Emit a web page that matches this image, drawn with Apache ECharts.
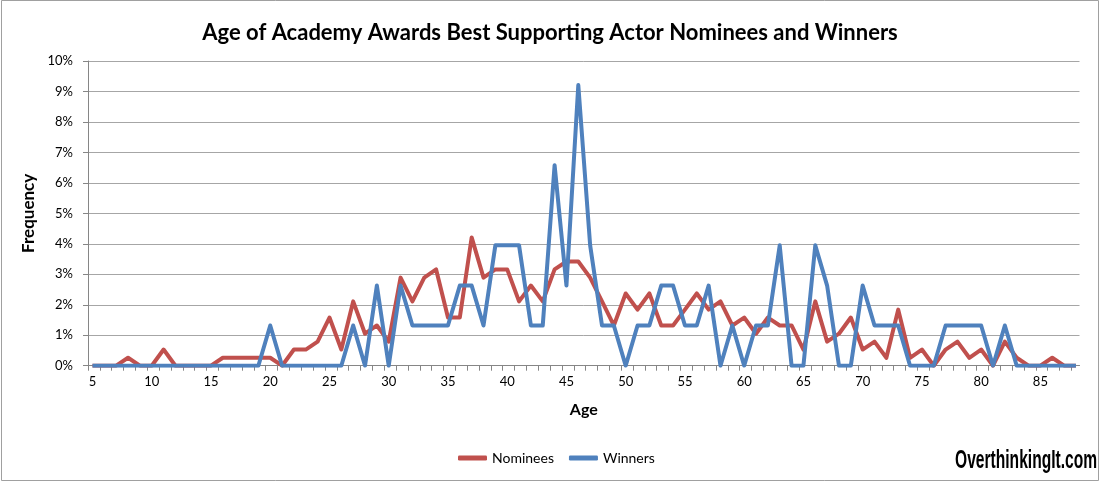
<!DOCTYPE html>
<html>
<head>
<meta charset="utf-8">
<script src="https://cdn.jsdelivr.net/npm/echarts@6/dist/echarts.min.js"></script>
<style>
html,body{margin:0;padding:0;background:#fff;}
#c{width:1100px;height:481px;}
</style>
</head>
<body>
<div id="c"></div>
<script>
const ages = [5,6,7,8,9,10,11,12,13,14,15,16,17,18,19,20,21,22,23,24,25,26,27,28,29,30,
  31,32,33,34,35,36,37,38,39,40,41,42,43,44,45,46,47,48,49,50,51,52,53,54,55,56,57,58,59,60,
  61,62,63,64,65,66,67,68,69,70,71,72,73,74,75,76,77,78,79,80,81,82,83,84,85,86,87,88];

// Frequency (%) by age
const nominees = [0,0,0,0.26,0,0,0.53,0,0,0,0,0.26,0.26,0.26,0.26,0.26,
  0,0.53,0.53,0.79,1.58,0.53,2.11,1.05,1.32,0.79,
  2.89,2.11,2.89,3.16,1.58,1.58,4.21,2.89,3.16,3.16,
  2.11,2.63,2.11,3.16,3.42,3.42,2.89,2.11,1.32,2.37,
  1.84,2.37,1.32,1.32,1.84,2.37,1.84,2.11,1.32,1.58,
  1.05,1.58,1.32,1.32,0.53,2.11,0.79,1.05,1.58,0.53,
  0.79,0.26,1.84,0.26,0.53,0,0.53,0.79,0.26,0.53,
  0,0.79,0.26,0,0,0.26,0,0];

const winners = [0,0,0,0,0,0,0,0,0,0,0,0,0,0,0,1.32,
  0,0,0,0,0,0,1.32,0,2.63,0,
  2.63,1.32,1.32,1.32,1.32,2.63,2.63,1.32,3.95,3.95,
  3.95,1.32,1.32,6.58,2.63,9.21,3.95,1.32,1.32,0,
  1.32,1.32,2.63,2.63,1.32,1.32,2.63,0,1.32,0,
  1.32,1.32,3.95,0,0,3.95,2.63,0,0,2.63,
  1.32,1.32,1.32,0,0,0,1.32,1.32,1.32,1.32,
  0,1.32,0,0,0,0,0,0];

const xLabels = [5,10,15,20,25,30,35,40,45,50,55,60,65,70,75,80,85];

const chart = echarts.init(document.getElementById('c'));
const axisGray = '#868686';
const font = 'Lato';

chart.setOption({
  animation: false,
  backgroundColor: '#fff',
  title: {
    text: 'Age of Academy Awards Best Supporting Actor Nominees and Winners',
    left: 'center', top: 17,
    textStyle: {fontFamily: font, fontWeight: 'bold', fontSize: 22, color: '#000'}
  },
  legend: {
    left: 453, top: 446,
    itemWidth: 29, itemHeight: 5, itemGap: 15,
    icon: 'roundRect',
    textStyle: {fontFamily: font, fontSize: 14, color: '#000'},
    data: ['Nominees', 'Winners']
  },
  grid: {left: 88, right: 20.5, top: 61, bottom: 115.3},
  xAxis: {
    type: 'value', min: 4.62, max: 88.3,
    name: 'Age', nameLocation: 'middle', nameGap: 36,
    nameTextStyle: {fontFamily: font, fontWeight: 'bold', fontSize: 16, color: '#000'},
    axisLine: {show: true, lineStyle: {color: axisGray}},
    axisTick: {show: true, length: 5, lineStyle: {color: axisGray},
      customValues: ages.map(a => a - 0.38)},
    axisLabel: {customValues: xLabels, margin: 10,
      fontFamily: font, fontSize: 13, color: '#000'},
    splitLine: {show: false}
  },
  yAxis: {
    type: 'value', min: 0, max: 10, interval: 1,
    name: 'Frequency', nameLocation: 'middle', nameGap: 42,
    nameTextStyle: {fontFamily: font, fontWeight: 'bold', fontSize: 17, color: '#000'},
    axisLine: {show: true, lineStyle: {color: axisGray}},
    axisTick: {show: true, length: 5, lineStyle: {color: axisGray}},
    axisLabel: {formatter: '{value}%', margin: 15, fontFamily: font, fontSize: 13, color: '#000'},
    splitLine: {show: true, lineStyle: {color: '#a6a6a6', width: 1}}
  },
  series: [
    {
      name: 'Nominees', type: 'line', showSymbol: false, symbol: 'none',
      data: ages.map((a, i) => [a, nominees[i]]),
      itemStyle: {color: '#C0504D'},
      lineStyle: {color: '#C0504D', width: 4, join: 'round'}
    },
    {
      name: 'Winners', type: 'line', showSymbol: false, symbol: 'none',
      data: ages.map((a, i) => [a, winners[i]]),
      itemStyle: {color: '#4F81BD'},
      lineStyle: {color: '#4F81BD', width: 4, join: 'round'}
    }
  ],
  graphic: [
    {
      type: 'rect', silent: true,
      shape: {x: 1.5, y: 0.5, width: 1097, height: 480},
      style: {fill: 'none', stroke: '#a0a0a0', lineWidth: 1}
    },
    {
      type: 'text', x: 955, y: 461, scaleX: 0.6, silent: true,
      style: {x: 0, y: 0, text: 'OverthinkingIt.com', fill: '#000',
        textAlign: 'left', textVerticalAlign: 'middle',
        font: 'bold 26px "Liberation Sans", "DejaVu Sans"'}
    }
  ]
});
</script>
</body>
</html>
